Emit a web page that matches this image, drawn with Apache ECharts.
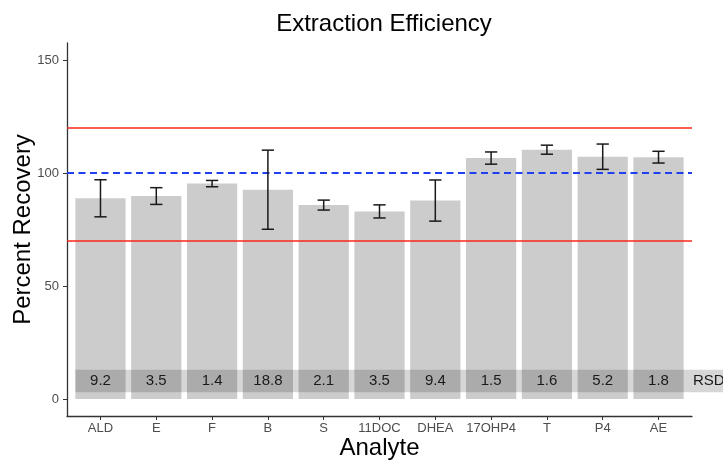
<!DOCTYPE html>
<html>
<head>
<meta charset="utf-8">
<script src="https://cdn.jsdelivr.net/npm/echarts@6/dist/echarts.min.js"></script>
<style>html,body{margin:0;padding:0;background:#fff;}#chart{width:723px;height:461px;}</style>
</head>
<body>
<div id="chart"></div>
<script>
const categories = ['ALD', 'E', 'F', 'B', 'S', '11DOC', 'DHEA', '17OHP4', 'T', 'P4', 'AE'];
const recovery = [88.8, 89.8, 95.3, 92.6, 85.8, 83.0, 87.8, 106.6, 110.3, 107.2, 107.0];
const errorSD = [8.2, 3.7, 1.4, 17.5, 2.2, 2.9, 9.1, 2.7, 2.0, 5.6, 2.6];
const rsdLabels = ['9.2', '3.5', '1.4', '18.8', '2.1', '3.5', '9.4', '1.5', '1.6', '5.2', '1.8'];
const yTicks = [0, 50, 100, 150];
const limitLines = [70, 120];
const targetLine = 100;
const rsdBand = [3, 13];

const FONT = '"Liberation Sans", Arial, Helvetica, sans-serif';
const xPos = categories.map((c, i) => i + 1);

const chart = echarts.init(document.getElementById('chart'), null, {renderer: 'canvas'});

const option = {
  animation: false,
  backgroundColor: '#ffffff',
  title: {
    text: 'Extraction Efficiency',
    left: 379,
    top: 7,
    textAlign: 'center',
    textStyle: {fontSize: 24, fontWeight: 'normal', color: '#000', fontFamily: FONT}
  },
  grid: {left: 67, right: 31, top: 43, bottom: 45, containLabel: false, outerBoundsMode: 'none'},
  xAxis: {
    type: 'value',
    min: 0.4,
    max: 11.6,
    name: 'Analyte',
    nameLocation: 'middle',
    nameGap: 20,
    nameMoveOverlap: false,
    nameTextStyle: {fontSize: 24, color: '#000', fontFamily: FONT},
    splitLine: {show: false},
    axisLine: {show: true, onZero: false, lineStyle: {color: '#333', width: 1.3}},
    axisTick: {show: true, customValues: xPos, length: 4, lineStyle: {color: '#333', width: 1}},
    axisLabel: {
      customValues: xPos,
      formatter: v => categories[Math.round(v) - 1] || '',
      color: '#4d4d4d', fontSize: 13, fontFamily: FONT, margin: 6
    }
  },
  yAxis: {
    type: 'value',
    min: -7.5,
    max: 157.5,
    name: 'Percent Recovery',
    nameLocation: 'middle',
    nameGap: 32,
    nameMoveOverlap: false,
    nameTextStyle: {fontSize: 24, color: '#000', fontFamily: FONT},
    splitLine: {show: false},
    axisLine: {show: true, onZero: false, lineStyle: {color: '#333', width: 1.3}},
    axisTick: {show: true, customValues: yTicks, length: 4, lineStyle: {color: '#333', width: 1}},
    axisLabel: {customValues: yTicks, color: '#4d4d4d', fontSize: 13, fontFamily: FONT, margin: 8}
  },
  series: [
    {
      type: 'custom',
      name: 'bars',
      z: 2,
      data: xPos.map((x, i) => [x, recovery[i]]),
      encode: {x: 0, y: 1},
      renderItem: function (params, api) {
        const top = api.coord([api.value(0) - 0.45, api.value(1)]);
        const base = api.coord([api.value(0) + 0.45, 0]);
        return {
          type: 'rect',
          shape: {x: top[0], y: top[1], width: base[0] - top[0], height: base[1] - top[1]},
          style: {fill: '#cccccc'}
        };
      }
    },
    {
      type: 'custom',
      name: 'rsdBand',
      z: 3,
      clip: false,
      data: [[0.55, rsdBand[0], rsdBand[1]]],
      encode: {x: 0, y: [1, 2]},
      renderItem: function (params, api) {
        const pTop = api.coord([api.value(0), api.value(2)]);
        const pBot = api.coord([api.value(0), api.value(1)]);
        return {
          type: 'rect',
          shape: {x: pTop[0], y: pTop[1], width: api.getWidth() - pTop[0], height: pBot[1] - pTop[1]},
          style: {fill: 'rgba(0,0,0,0.16)'}
        };
      }
    },
    {
      type: 'line',
      name: 'refLines',
      z: 4,
      data: [],
      markLine: {
        silent: true,
        symbol: 'none',
        label: {show: false},
        animation: false,
        data: [
          {yAxis: limitLines[1], lineStyle: {color: '#f8291a', width: 1.6, type: 'solid'}},
          {yAxis: limitLines[0], lineStyle: {color: '#f8291a', width: 1.6, type: 'solid'}},
          {yAxis: targetLine, lineStyle: {color: '#1f3ff0', width: 1.8, type: [7, 4.5]}}
        ]
      }
    },
    {
      type: 'custom',
      name: 'errorbars',
      z: 5,
      data: xPos.map((x, i) => [x, recovery[i] - errorSD[i], recovery[i] + errorSD[i]]),
      encode: {x: 0, y: [1, 2]},
      renderItem: function (params, api) {
        const x = api.value(0);
        const lo = api.coord([x, api.value(1)]);
        const hi = api.coord([x, api.value(2)]);
        const capL = api.coord([x - 0.11, api.value(1)])[0];
        const capR = api.coord([x + 0.11, api.value(1)])[0];
        const st = {stroke: '#1a1a1a', lineWidth: 1.5};
        return {
          type: 'group',
          children: [
            {type: 'line', shape: {x1: lo[0], y1: lo[1], x2: hi[0], y2: hi[1]}, style: st},
            {type: 'line', shape: {x1: capL, y1: lo[1], x2: capR, y2: lo[1]}, style: st},
            {type: 'line', shape: {x1: capL, y1: hi[1], x2: capR, y2: hi[1]}, style: st}
          ]
        };
      }
    },
    {
      type: 'custom',
      name: 'rsdText',
      z: 6,
      clip: false,
      data: xPos.map(x => [x, (rsdBand[0] + rsdBand[1]) / 2]),
      encode: {x: 0, y: 1},
      renderItem: function (params, api) {
        const p = api.coord([api.value(0), api.value(1)]);
        return {
          type: 'text',
          x: p[0], y: p[1],
          style: {text: rsdLabels[params.dataIndex], textAlign: 'center', textVerticalAlign: 'middle',
                  fontSize: 15, fontFamily: FONT, fill: '#1a1a1a'}
        };
      }
    },
    {
      type: 'custom',
      name: 'rsdTitle',
      z: 6,
      clip: false,
      data: [[11.6, (rsdBand[0] + rsdBand[1]) / 2]],
      encode: {x: 0, y: 1},
      renderItem: function (params, api) {
        const p = api.coord([api.value(0), api.value(1)]);
        return {
          type: 'text',
          x: p[0] + 1, y: p[1],
          style: {text: 'RSD', textAlign: 'left', textVerticalAlign: 'middle',
                  fontSize: 15, fontFamily: FONT, fill: '#1a1a1a'}
        };
      }
    }
  ]
};
chart.setOption(option);
</script>
</body>
</html>
